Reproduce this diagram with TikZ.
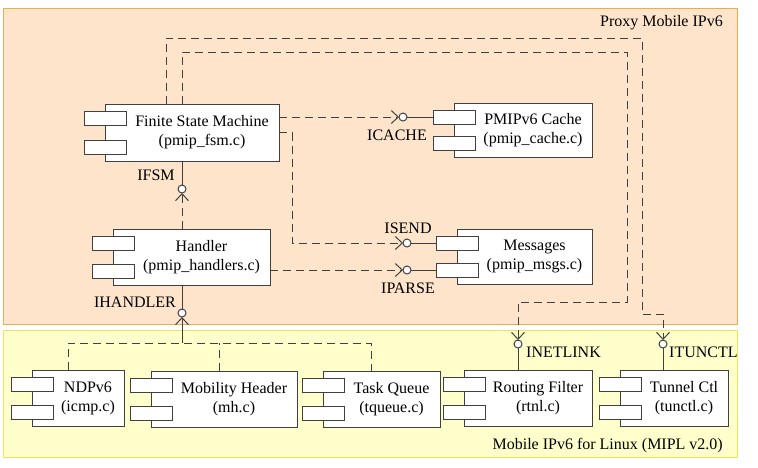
\documentclass[tikz,border=0pt]{standalone}
\usepackage{fontspec}
\setmainfont{Liberation Serif}
\usetikzlibrary{arrows.meta,calc}
\definecolor{pmfill}{RGB}{253,228,203}
\definecolor{pmdraw}{RGB}{238,172,82}
\definecolor{mifill}{RGB}{255,255,204}
\definecolor{midraw}{RGB}{238,228,96}
\definecolor{ln}{RGB}{64,64,64}
\tikzset{
 comp/.style={draw=ln, fill=white, line width=1pt, inner sep=0pt, outer sep=0pt, rectangle},
 tab/.style={draw=ln, fill=white, line width=1pt, inner sep=0pt, outer sep=0pt, rectangle, minimum width=42pt, minimum height=14pt},
 txt/.style={align=center, inner sep=0pt, font=\fontsize{16}{19}\selectfont},
 lbl/.style={inner sep=0pt, font=\fontsize{16}{19}\selectfont},
 iface/.style={circle, draw=ln, fill=white, line width=1pt, minimum size=8pt, inner sep=0pt, outer sep=0pt},
 dep/.style={draw=ln, line width=1pt, dash pattern=on 8pt off 5pt, -{Straight Barb[length=7pt,width=13pt]}},
 busline/.style={draw=ln, line width=1pt, dash pattern=on 8pt off 5pt},
 conn/.style={draw=ln, line width=1pt},
 region/.style={line width=1pt},
}
\newcommand{\compbox}[6]{%
  \pgfmathsetmacro\cbw{#4-#2}%
  \pgfmathsetmacro\cbh{#5-#3}%
  \pgfmathsetmacro\cbx{(#2+#4)/2}%
  \pgfmathsetmacro\cby{(#3+#5)/2}%
  \node[comp, minimum width=\cbw pt, minimum height=\cbh pt] (#1) at (\cbx,\cby) {};
  \node[tab, anchor=north west] (#1-a) at ($(#1.north west)+(-21,7)$) {};
  \node[tab, anchor=south west] (#1-b) at ($(#1.south west)+(-21,-7)$) {};
  \node[txt] (#1-t) at ($(#1.center)+(10,0)$) {#6};
}
\begin{document}
\begin{tikzpicture}[x=1pt,y=-1pt]
\useasboundingbox (0,0) rectangle (758,467);
\fill[white] (0,0) rectangle (758,467);
\draw[region, draw=pmdraw, fill=pmfill] (3,8) rectangle (737,324);
\draw[region, draw=midraw, fill=mifill] (3,330) rectangle (737,457);

\compbox{fsm}{105}{104}{279}{161}{Finite State Machine\\(pmip\_fsm.c)}
\compbox{cache}{454}{103}{592}{157}{PMIPv6 Cache\\(pmip\_cache.c)}
\compbox{hdl}{113}{229}{270}{285}{Handler\\(pmip\_handlers.c)}
\compbox{msg}{457}{229}{592}{284}{Messages\\(pmip\_msgs.c)}
\compbox{ndp}{32}{370}{124}{426}{NDPv6\\(icmp.c)}
\compbox{mh}{151}{371}{297}{427}{Mobility Header\\(mh.c)}
\compbox{tq}{323}{371}{440}{427}{Task Queue\\(tqueue.c)}
\compbox{rtf}{464}{370}{592}{426}{Routing Filter\\(rtnl.c)}
\compbox{tun}{620}{370}{728}{426}{Tunnel Ctl\\(tunctl.c)}

\node[iface] (icache) at (403,117) {};
\node[iface] (isend) at (407,243) {};
\node[iface] (iparse) at (407,270) {};
\node[iface] (ifsm) at (182,189) {};
\node[iface] (ihdl) at (182,313) {};
\node[iface] (inl) at (518,344) {};
\node[iface] (itc) at (663,344) {};

\draw[dep] (fsm.east |- icache) -- (icache);
\draw[conn] (icache) -- (icache -| cache-a.west);
\draw[dep] (fsm.east) -- ++(13,0) |- (isend);
\draw[conn] (isend) -- (isend -| msg-a.west);
\draw[dep] (hdl.east |- iparse) -- (iparse);
\draw[conn] (iparse) -- (iparse -| msg-b.west);
\draw[conn] (fsm.south -| ifsm) -- (ifsm);
\draw[dep] (hdl.north -| ifsm) -- (ifsm);
\draw[conn] (hdl.south -| ihdl) -- (ihdl);

\coordinate (bus) at (182,343);
\coordinate (ndptop) at ([xshift=36pt]ndp.north west);
\coordinate (mhtop) at ([xshift=68pt]mh.north west);
\coordinate (tqtop) at ([xshift=48pt]tq.north west);
\draw[busline] (ndptop) |- (bus) -| (tqtop);
\draw[busline] (mhtop) -- (mhtop |- bus);
\draw[conn, -{Straight Barb[length=7pt,width=13pt]}] (bus) -- (ihdl);

\coordinate (fsmA) at ([xshift=77pt]fsm.north west);
\coordinate (fsmB) at ([xshift=61pt]fsm.north west);
\coordinate (tr1) at (627,52);
\coordinate (tr2) at (642,38);
\coordinate (md1) at (518,302);
\coordinate (md2) at (663,314);
\draw[dep] (fsmA) |- (tr1) |- (md1) -- (inl);
\draw[dep] (fsmB) |- (tr2) |- (md2) -- (itc);
\draw[conn] (inl) -- (inl |- rtf.north);
\draw[conn] (itc) -- (itc |- tun.north);

\node[lbl] (l-icache) at (397,135) {ICACHE};
\node[lbl] (l-isend) at (408,228) {ISEND};
\node[lbl] (l-iparse) at (408,288) {IPARSE};
\node[lbl] (l-ifsm) at (156,175) {IFSM};
\node[lbl] (l-ihdl) at (135,302) {IHANDLER};
\node[lbl, anchor=west] (l-inl) at (526,352) {INETLINK};
\node[lbl, anchor=west] (l-itc) at (669,352) {ITUNCTL};
\node[lbl, anchor=base east] (l-pm) at (723,26) {Proxy Mobile IPv6};
\node[lbl, anchor=base east] (l-mi) at (723,449) {Mobile IPv6 for Linux (MIPL v2.0)};
\end{tikzpicture}
\end{document}
